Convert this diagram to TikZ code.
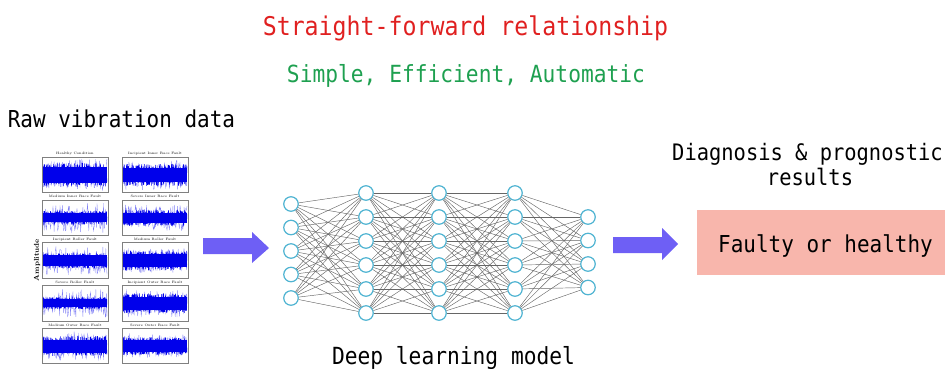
\documentclass[tikz,border=0pt]{standalone}
\usepackage{fontspec}
\newfontfamily\monof[FakeStretch=0.9]{DejaVu Sans Mono}
\definecolor{titlered}{RGB}{224,32,32}
\definecolor{titlegreen}{RGB}{30,160,80}
\definecolor{arrowc}{RGB}{110,95,245}
\definecolor{pinkbox}{RGB}{248,182,172}
\definecolor{neuronc}{RGB}{80,180,210}
\definecolor{sigblue}{RGB}{0,0,235}
\begin{document}
\begin{tikzpicture}[x=1pt,y=-1pt,
  neuron/.style={circle, draw=neuronc, line width=1.2pt, fill=white, minimum size=14.5pt, inner sep=0pt},
  edge/.style={draw=black!60, line width=0.45pt},
  bigarrow/.style={fill=arrowc},
  paneltitle/.style={font=\fontsize{3.4}{4}\selectfont, inner sep=0pt},
  panelframe/.style={draw=gray, line width=0.45pt},
  monotext/.style={font=\monof\fontsize{#1}{#1}\selectfont, anchor=base, inner sep=0pt}]
\useasboundingbox (0,0) rectangle (950,368);

% titles
\node[monotext=25.8, text=titlered] (title) at (465.5,35) {Straight-forward relationship};
\node[monotext=23.6, text=titlegreen] (sub) at (466,82) {Simple, Efficient, Automatic};
\node[monotext=23.3] (raw) at (121.5,127) {Raw vibration data};
\node[monotext=22.7] (diag) at (807.5,160) {Diagnosis \& prognostic};
\node[monotext=22.7] (res) at (810,185) {results};
\node[monotext=23.6] (dlm) at (453.5,364) {Deep learning model};

% vibration panels
\pgfmathsetseed{11}
\node[rotate=90, font=\bfseries\fontsize{7}{8}\selectfont, inner sep=0pt] (ampl) at (37,260) {Amplitude};
\foreach \col/\row/\ttl/\amp/\sp in {
  0/0/Healthy Condition/12/16,
  1/0/Incipient Inner Race Fault/11/15,
  0/1/Medium Inner Race Fault/7/15,
  1/1/Severe Inner Race Fault/8/13,
  0/2/Incipient Roller Fault/8/14,
  1/2/Medium Roller Fault/10/13,
  0/3/Severe Roller Fault/6/14,
  1/3/Incipient Outer Race Fault/10/14,
  0/4/Medium Outer Race Fault/10/14,
  1/4/Severe Outer Race Fault/9/12}{
  \pgfmathsetmacro\xl{42+80*\col}
  \pgfmathsetmacro\yt{157+42.75*\row}
  \pgfmathsetmacro\yc{\yt+18}
  \node[paneltitle] (pt-\col-\row) at (\xl+33,\yt-3) {\ttl};
  \draw[sigblue!50, line width=0.3pt] plot[domain=\xl+1:\xl+65, samples=110] (\x,{\yc+\sp*rand});
  \draw[sigblue, line width=0.45pt] plot[domain=\xl+1:\xl+65, samples=420] (\x,{\yc+\amp*rand});
  \fill[sigblue] (\xl+1,\yc-0.65*\amp) rectangle (\xl+65,\yc+0.65*\amp);
  \draw[panelframe] (\xl,\yt) rectangle ++(66,35.5);
}

% arrows
\fill[bigarrow] (203,238) -- (252,238) -- (252,232) -- (269,248) -- (252,263) -- (252,254) -- (203,254) -- cycle;
\fill[bigarrow] (613,237) -- (662,237) -- (662,228) -- (678,244) -- (662,260) -- (662,253) -- (613,253) -- cycle;

% result box
\node[fill=pinkbox, minimum width=248pt, minimum height=65pt, inner sep=0pt] (box) at (821,242.5) {};
\node[monotext=23.3] (fh) at (825.5,252) {Faulty or healthy};

% network
\foreach \y [count=\k] in {204,227.5,251,274.5,298} \node[neuron] (a\k) at (291,\y) {};
\foreach \y [count=\k] in {193,217,241,265,289,313} {
  \node[neuron] (b\k) at (366,\y) {};
  \node[neuron] (c\k) at (439,\y) {};
  \node[neuron] (d\k) at (515,\y) {};
}
\foreach \y [count=\k] in {217,240.5,264,287.5} \node[neuron] (e\k) at (588,\y) {};

\foreach \i in {1,...,5} \foreach \j in {1,...,6} \draw[edge] (a\i) -- (b\j);
\foreach \i in {1,...,6} \foreach \j in {1,...,6} {
  \draw[edge] (b\i) -- (c\j);
  \draw[edge] (c\i) -- (d\j);
}
\foreach \i in {1,...,6} \foreach \j in {1,...,4} \draw[edge] (d\i) -- (e\j);
\end{tikzpicture}
\end{document}
